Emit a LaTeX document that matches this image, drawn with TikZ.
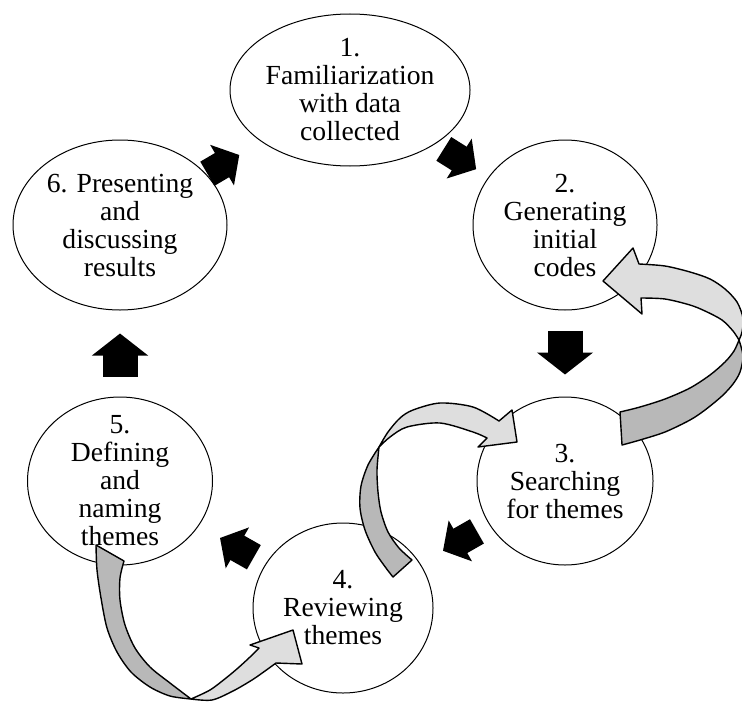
\documentclass[tikz,border=0pt]{standalone}
\usepackage{fontspec}
\setmainfont{Liberation Serif}
\usepackage{xcolor}
\usepackage{tikz}
\usetikzlibrary{arrows.meta,shapes.geometric}

\definecolor{bandlight}{gray}{0.87}
\definecolor{banddark}{gray}{0.72}

\tikzset{
  phase/.style={ellipse,draw,line width=0.5pt,fill=white,inner sep=-12pt,align=center,
    font=\fontsize{13.8pt}{14pt}\selectfont},
  flow/.style={line width=17.5pt,-{Triangle[length=11pt,width=27.5pt]}},
  flowd/.style={line width=14pt,-{Triangle[length=10pt,width=23pt]}},
  band/.style={draw,line width=0.7pt,line join=round}
}

\begin{document}
\begin{tikzpicture}[x=0.5pt,y=-0.5pt]
  \useasboundingbox (0,0) rectangle (742,701);

  \node[phase,minimum width=120pt,minimum height=76pt] (familiar) at (350,90) {1.\\Familiarization\\with data\\collected};
  \node[phase,minimum width=92pt,minimum height=85pt] (codes) at (565,225) {2.\\Generating\\initial\\codes};
  \node[phase,minimum width=88pt,minimum height=84pt] (search) at (565,481) {3.\\Searching\\for themes};
  \node[phase,minimum width=90pt,minimum height=85pt] (review) at (343,608) {4.\\Reviewing\\themes};
  \node[phase,minimum width=92.5pt,minimum height=84pt] (define) at (120,481) {5.\\Defining\\and\\naming\\themes};
  \node[phase,minimum width=107pt,minimum height=85pt] (report) at (120,225) {6. Presenting\\and\\discussing\\results};

  \draw[flowd,shorten <=4.8pt,shorten >=7.3pt] (familiar) -- (codes);
  \draw[flow,shorten <=10pt,shorten >=11pt] (codes) -- (search);
  \draw[flowd,shorten <=7pt,shorten >=13pt] (search) -- (review);
  \draw[flowd,shorten <=6.7pt,shorten >=12.2pt] (review) -- (define);
  \draw[flow,shorten <=10pt,shorten >=11.5pt] (define) -- (report);
  \draw[flowd,shorten <=0.5pt,shorten >=12.9pt] (report) -- (familiar);

  % back to codes
  \filldraw[band,fill=banddark] plot[smooth] coordinates {(739,340) (743,356) (740,372) (733,384) (722,396) (705,410) (690,420) (665,432) (640,440) (622,445)}
    -- plot[smooth] coordinates {(620,412) (640,407) (665,399) (690,388) (710,375) (725,362) (734,351) (739,340)} -- cycle;
  \filldraw[band,fill=bandlight] plot[smooth] coordinates {(639,264) (665,266) (690,272) (710,279) (725,289) (737,302) (743,318) (742,332) (739,340)}
    -- plot[smooth] coordinates {(739,340) (733,331) (722,320) (705,311) (690,305) (665,299) (641,298)}
    -- (642,314) -- (603,281) -- (633,248) -- cycle;

  % back to search
  \filldraw[band,fill=banddark] plot[smooth] coordinates {(379,447) (368,465) (361,486) (360,508) (365,530) (375,552) (386,568) (393,577)}
    -- plot[smooth] coordinates {(412,560) (399,548) (388,532) (381,512) (378,492) (377,470) (379,447)} -- cycle;
  \filldraw[band,fill=bandlight] plot[smooth] coordinates {(379,447) (388,432) (400,418) (413,410) (440,403) (473,407) (499,421)}
    -- (512,410) -- (517,442) -- (478,447)
    -- plot[smooth] coordinates {(487,438) (473,432) (440,423) (407,427) (390,437) (379,447)} -- cycle;

  % back to review
  \filldraw[band,fill=banddark] plot[smooth] coordinates {(96,545) (97,570) (101,598) (107,628) (117,652) (131,672) (150,687) (170,696) (191,699)}
    -- plot[smooth] coordinates {(191,699) (170,683) (150,667) (135,648) (125,625) (120,600) (120,578) (124,561)} -- cycle;
  \filldraw[band,fill=bandlight] plot[smooth] coordinates {(191,699) (212,700) (233,691) (252,680) (265,671) (276,663)}
    -- (302,664) -- (293,630) -- (250,645)
    -- plot[smooth] coordinates {(259,648) (250,657) (238,668) (226,678) (210,690) (191,699)} -- cycle;
\end{tikzpicture}
\end{document}
